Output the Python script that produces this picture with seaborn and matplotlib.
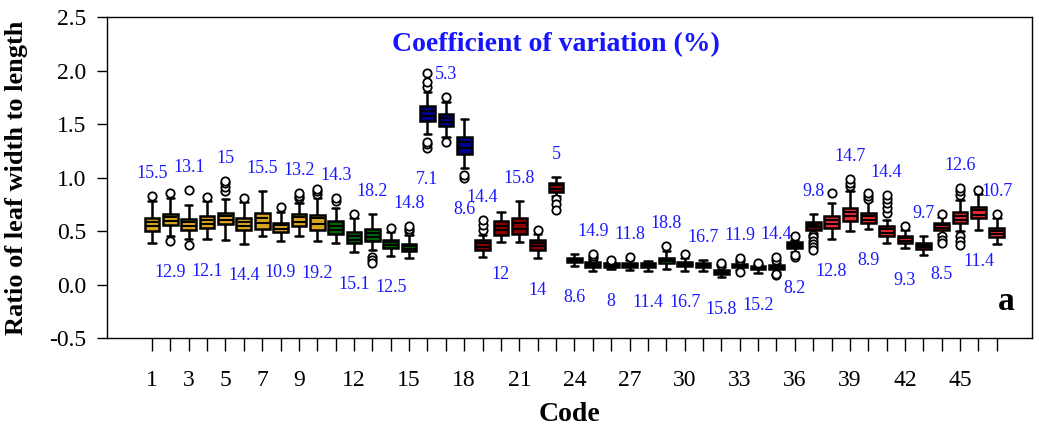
import numpy as np
import pandas as pd
import matplotlib
matplotlib.use("Agg")
import matplotlib.pyplot as plt
import seaborn as sns

# ---- data -------------------------------------------------------------
codes = [str(i) for i in range(1, 48)]

# colour group of each code
groups = (["gold"] * 10 + ["green"] * 5 + ["blue"] * 3 + ["darkred"] * 5 +
          ["black"] * 5 + ["lime"] + ["black"] * 7 + ["maroon"] + ["red"] * 10)

whislo = [0.388, 0.45, 0.426, 0.426, 0.419, 0.38, 0.45, 0.41, 0.45, 0.403,
          0.388, 0.30, 0.325, 0.268, 0.247, 1.41, 1.377, 1.094, 0.256, 0.394,
          0.394, 0.247, 0.827, 0.174, 0.13, 0.143, 0.137, 0.13, 0.143, 0.13,
          0.13, 0.07, 0.14, 0.105, 0.12, 0.30, 0.48, 0.426, 0.497, 0.52,
          0.388, 0.341, 0.278, 0.476, 0.497, 0.513, 0.381]
q1 = [0.497, 0.554, 0.513, 0.529, 0.567, 0.507, 0.523, 0.491, 0.544, 0.513,
      0.476, 0.388, 0.403, 0.34, 0.309, 1.533, 1.486, 1.22, 0.325, 0.466,
      0.476, 0.325, 0.865, 0.209, 0.168, 0.168, 0.168, 0.168, 0.20, 0.177,
      0.168, 0.10, 0.16, 0.143, 0.146, 0.341, 0.513, 0.529, 0.592, 0.576,
      0.45, 0.388, 0.331, 0.507, 0.576, 0.623, 0.444]
median = [0.544, 0.591, 0.544, 0.567, 0.601, 0.544, 0.576, 0.52, 0.582, 0.567,
          0.513, 0.419, 0.441, 0.365, 0.334, 1.58, 1.524, 1.273, 0.35, 0.507,
          0.522, 0.356, 0.896, 0.225, 0.18, 0.18, 0.18, 0.18, 0.22, 0.19,
          0.18, 0.115, 0.17, 0.155, 0.16, 0.36, 0.537, 0.57, 0.639, 0.607,
          0.482, 0.41, 0.355, 0.53, 0.607, 0.654, 0.473]
mean = [0.582, 0.633, 0.586, 0.607, 0.639, 0.588, 0.623, 0.554, 0.629, 0.623,
        0.551, 0.457, 0.482, 0.394, 0.356, 1.621, 1.561, 1.33, 0.388, 0.551,
        0.576, 0.388, 0.927, 0.232, 0.19, 0.19, 0.19, 0.19, 0.228, 0.20,
        0.19, 0.125, 0.18, 0.165, 0.17, 0.375, 0.56, 0.607, 0.676, 0.639,
        0.52, 0.435, 0.365, 0.555, 0.645, 0.695, 0.504]
q3 = [0.623, 0.664, 0.614, 0.639, 0.670, 0.623, 0.67, 0.576, 0.661, 0.654,
      0.592, 0.488, 0.52, 0.419, 0.381, 1.665, 1.596, 1.377, 0.413, 0.592,
      0.623, 0.419, 0.946, 0.247, 0.206, 0.20, 0.20, 0.20, 0.247, 0.215,
      0.20, 0.14, 0.19, 0.175, 0.184, 0.394, 0.582, 0.639, 0.718, 0.67,
      0.551, 0.457, 0.388, 0.576, 0.676, 0.724, 0.529]
whishi = [0.78, 0.812, 0.739, 0.78, 0.80, 0.77, 0.875, 0.68, 0.765, 0.805,
          0.718, 0.62, 0.661, 0.49, 0.466, 1.80, 1.706, 1.549, 0.466, 0.676,
          0.78, 0.47, 1.009, 0.287, 0.23, 0.21, 0.23, 0.224, 0.318, 0.25,
          0.231, 0.16, 0.21, 0.19, 0.20, 0.42, 0.664, 0.765, 0.874, 0.78,
          0.607, 0.51, 0.45, 0.63, 0.79, 0.85, 0.62]
outliers = [
    [0.827], [0.852, 0.41], [0.883, 0.372], [0.821], [0.87, 0.91, 0.95, 0.97],
    [0.812], [], [0.724], [0.81, 0.83, 0.86], [0.85, 0.87, 0.89],
    [0.78, 0.81], [0.661], [0.26, 0.23, 0.20], [0.529], [0.50, 0.52, 0.545],
    [1.85, 1.89, 1.98, 1.28, 1.31, 1.33], [1.753, 1.33], [1.0, 1.02],
    [0.51, 0.56, 0.607], [], [], [0.513], [0.796, 0.75, 0.70], [],
    [0.25, 0.27, 0.29], [0.225], [0.262], [], [0.363], [0.287], [],
    [0.18, 0.20], [0.23, 0.25, 0.12], [0.20], [0.23, 0.26, 0.09, 0.10],
    [0.45, 0.262, 0.28], [0.466, 0.44, 0.41, 0.38, 0.35, 0.325], [0.859],
    [0.92, 0.95, 0.99], [0.80, 0.83, 0.86], [0.67, 0.72, 0.76, 0.80, 0.84],
    [0.545], [], [0.664, 0.45, 0.42, 0.39], [0.84, 0.87, 0.906, 0.45, 0.41, 0.37],
    [0.88], [0.661],
]
cv_labels = ["15.5", "12.9", "13.1", "12.1", "15", "14.4", "15.5", "10.9",
             "13.2", "19.2", "14.3", "15.1", "18.2", "12.5", "14.8", "7.1",
             "5.3", "8.6", "14.4", "12", "15.8", "14", "5", "8.6", "14.9", "8",
             "11.8", "11.4", "18.8", "16.7", "16.7", "15.8", "11.9", "15.2",
             "14.4", "8.2", "9.8", "12.8", "14.7", "8.9", "14.4", "9.3", "9.7",
             "8.5", "12.6", "11.4", "10.7"]
shown_ticks = [1, 3, 5, 7, 9, 12, 15, 18, 21, 24, 27, 30, 33, 36, 39, 42, 45]

group_colors = {"gold": "#DAA520", "green": "#006400", "blue": "#00008B",
                "darkred": "#8B0000", "black": "#000000", "lime": "#00FF00",
                "maroon": "#6E0B0B", "red": "#E8282B"}

# ---- long-form tables ---------------------------------------------------
box_rows = []
for c, lo, a, m, b, hi in zip(codes, whislo, q1, median, q3, whishi):
    for v in (lo, a, m, b, hi):
        box_rows.append({"code": c, "value": v})
box_df = pd.DataFrame(box_rows)

flier_df = pd.DataFrame([{"code": c, "value": v}
                         for c, fl in zip(codes, outliers) for v in fl])

palette = {c: group_colors[g] for c, g in zip(codes, groups)}

# ---- style --------------------------------------------------------------
sns.set_style("ticks")
plt.rcParams["font.family"] = ["Liberation Serif", "DejaVu Serif"]
plt.rcParams.update({"text.color": "black", "axes.labelcolor": "black",
                     "xtick.color": "black", "ytick.color": "black"})

fig, ax = plt.subplots(figsize=(10.39, 4.30), dpi=100)
fig.subplots_adjust(left=0.103, right=0.993, top=0.960, bottom=0.214)

box_w = 0.8
sns.boxplot(data=box_df, x="code", y="value", hue="code", order=codes,
            palette=palette, dodge=False, legend=False, saturation=1,
            whis=(0, 100), showfliers=False, width=box_w,
            linecolor="black", linewidth=1.8,
            medianprops=dict(color="black", linewidth=1.5), ax=ax)

# mean line inside each box
pos = np.arange(len(codes))
ax.hlines(mean, pos - box_w / 2 + 0.06, pos + box_w / 2 - 0.06,
          colors="black", linewidth=1.5, zorder=3)

# outliers as open circles
sns.stripplot(data=flier_df, x="code", y="value", order=codes, jitter=False,
              color="white", edgecolor="black", linewidth=1.3, size=6,
              zorder=4, ax=ax)

# coefficient of variation labels, alternating above / below each box
for i, lab in enumerate(cv_labels):
    pts = [whislo[i], whishi[i]] + outliers[i]
    if i % 2 == 0:
        y = max(pts) + 0.21
    else:
        y = min(pts) - 0.30
    ax.text(i, y, lab, ha="center", va="center", color="#1A1AFF",
            fontsize=13)

ax.text(0.485, 0.915, "Coefficient of variation (%)", transform=ax.transAxes,
        ha="center", va="center", color="#1515FF", fontsize=20,
        fontweight="bold")
ax.text(0.972, 0.115, "a", transform=ax.transAxes, ha="center",
        va="center", fontsize=24, fontweight="bold")

# ---- axes ---------------------------------------------------------------
ax.set_xlim(-2.45, 47.9)
ax.set_ylim(-0.5, 2.5)
yt = np.arange(-0.5, 2.51, 0.5)
ax.set_yticks(yt)
ax.set_yticklabels([f"{v:.1f}" for v in yt])
ax.set_xticks(pos)
ax.set_xticklabels([c if int(c) in shown_ticks else "" for c in codes])

for s in ax.spines.values():
    s.set_visible(True)
    s.set_linewidth(1.0)
    s.set_color("black")

ax.tick_params(axis="y", direction="out", length=7, width=1,
               labelsize=17, pad=8)
ax.tick_params(axis="x", direction="out", length=9, width=1,
               labelsize=17, pad=14)

ax.set_xlabel("Code", fontsize=20, fontweight="bold", labelpad=8)
ax.set_ylabel("Ratio of leaf width to length", fontsize=19,
              fontweight="bold")
ax.yaxis.set_label_coords(-0.085, 0.5)

fig.savefig("out.png", dpi=100)
